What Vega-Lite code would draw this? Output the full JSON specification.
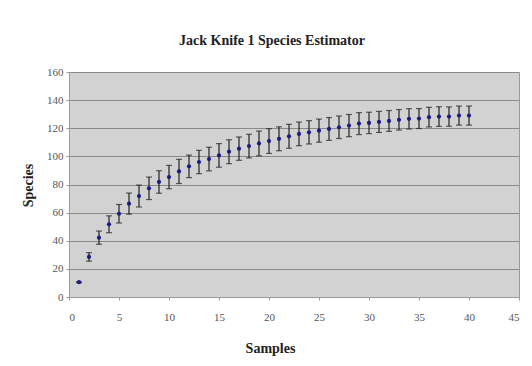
{
  "$schema": "https://vega.github.io/schema/vega-lite/v6.json",
  "width": 450,
  "height": 225,
  "autosize": {"type": "none"},
  "padding": {"left": 69, "top": 72, "right": 13, "bottom": 69},
  "background": "white",
  "title": {
    "text": "Jack Knife 1 Species Estimator",
    "font": "Liberation Serif",
    "fontSize": 14,
    "fontWeight": "bold",
    "color": "#222222",
    "anchor": "middle",
    "dx": -22,
    "offset": 18
  },
  "config": {
    "view": {"fill": "#d2d2d2", "stroke": "#9a9a9a", "strokeWidth": 1},
    "axis": {
      "labelFont": "Liberation Serif",
      "labelFontSize": 11,
      "labelColor": "#555555",
      "labelOverlap": false,
      "titleFont": "Liberation Serif",
      "titleFontSize": 14,
      "titleFontWeight": "bold",
      "titleColor": "#222222",
      "domainColor": "#9a9a9a",
      "tickColor": "#9a9a9a",
      "tickSize": 3
    },
    "axisX": {
      "values": [0, 5, 10, 15, 20, 25, 30, 35, 40, 45],
      "grid": false,
      "labelPadding": 11,
      "titleX": 201,
      "titleY": 51,
      "titleBaseline": "middle"
    },
    "axisY": {
      "values": [0, 20, 40, 60, 80, 100, 120, 140, 160],
      "grid": true,
      "gridColor": "#8a8a8a",
      "gridWidth": 1,
      "labelPadding": 3,
      "titleX": -41,
      "titleY": 113,
      "titleAngle": -90,
      "titleAlign": "center",
      "titleBaseline": "middle"
    }
  },
  "data": {
    "values": [
      {"x": 1, "y": 10.5, "lo": 10.2, "hi": 10.8},
      {"x": 2, "y": 28.5, "lo": 25.5, "hi": 31.5},
      {"x": 3, "y": 42.2, "lo": 37.5, "hi": 46.9},
      {"x": 4, "y": 51.7, "lo": 45.7, "hi": 57.7},
      {"x": 5, "y": 59.2, "lo": 52.6, "hi": 65.8},
      {"x": 6, "y": 66.4, "lo": 58.9, "hi": 73.9},
      {"x": 7, "y": 71.8, "lo": 64.0, "hi": 79.6},
      {"x": 8, "y": 77.3, "lo": 69.3, "hi": 85.3},
      {"x": 9, "y": 81.8, "lo": 73.8, "hi": 89.8},
      {"x": 10, "y": 85.3, "lo": 77.0, "hi": 93.6},
      {"x": 11, "y": 89.3, "lo": 80.7, "hi": 97.9},
      {"x": 12, "y": 92.9, "lo": 84.9, "hi": 100.9},
      {"x": 13, "y": 96.0, "lo": 87.7, "hi": 104.3},
      {"x": 14, "y": 98.1, "lo": 89.7, "hi": 106.5},
      {"x": 15, "y": 100.7, "lo": 92.3, "hi": 109.1},
      {"x": 16, "y": 103.3, "lo": 94.8, "hi": 111.8},
      {"x": 17, "y": 105.5, "lo": 97.2, "hi": 113.8},
      {"x": 18, "y": 107.3, "lo": 98.9, "hi": 115.7},
      {"x": 19, "y": 109.2, "lo": 100.4, "hi": 118.0},
      {"x": 20, "y": 110.9, "lo": 102.1, "hi": 119.7},
      {"x": 21, "y": 112.5, "lo": 104.0, "hi": 121.0},
      {"x": 22, "y": 114.3, "lo": 105.8, "hi": 122.8},
      {"x": 23, "y": 116.0, "lo": 107.6, "hi": 124.4},
      {"x": 24, "y": 117.1, "lo": 108.8, "hi": 125.4},
      {"x": 25, "y": 118.3, "lo": 110.1, "hi": 126.5},
      {"x": 26, "y": 119.5, "lo": 111.4, "hi": 127.6},
      {"x": 27, "y": 120.7, "lo": 112.7, "hi": 128.7},
      {"x": 28, "y": 121.9, "lo": 114.0, "hi": 129.8},
      {"x": 29, "y": 123.3, "lo": 115.5, "hi": 131.1},
      {"x": 30, "y": 123.8, "lo": 116.2, "hi": 131.4},
      {"x": 31, "y": 124.5, "lo": 117.0, "hi": 132.0},
      {"x": 32, "y": 125.2, "lo": 117.8, "hi": 132.6},
      {"x": 33, "y": 126.0, "lo": 118.7, "hi": 133.3},
      {"x": 34, "y": 126.7, "lo": 119.5, "hi": 133.9},
      {"x": 35, "y": 126.9, "lo": 119.8, "hi": 134.0},
      {"x": 36, "y": 127.9, "lo": 120.9, "hi": 134.9},
      {"x": 37, "y": 128.3, "lo": 121.3, "hi": 135.3},
      {"x": 38, "y": 128.3, "lo": 121.4, "hi": 135.2},
      {"x": 39, "y": 129.0, "lo": 122.2, "hi": 135.8},
      {"x": 40, "y": 129.0, "lo": 122.2, "hi": 135.8}
    ]
  },
  "layer": [
    {
      "mark": {"type": "rule", "color": "#222222", "strokeWidth": 1.2},
      "encoding": {
        "x": {
          "field": "x",
          "type": "quantitative",
          "scale": {"domain": [0, 45], "nice": false},
          "axis": {"title": "Samples"}
        },
        "y": {
          "field": "lo",
          "type": "quantitative",
          "scale": {"domain": [0, 160], "nice": false},
          "axis": {"title": "Species"}
        },
        "y2": {"field": "hi"}
      }
    },
    {
      "mark": {"type": "tick", "orient": "horizontal", "color": "#222222", "size": 6, "thickness": 1.2},
      "encoding": {
        "x": {"field": "x", "type": "quantitative", "axis": {"title": "Samples"}},
        "y": {"field": "lo", "type": "quantitative", "axis": {"title": "Species"}}
      }
    },
    {
      "mark": {"type": "tick", "orient": "horizontal", "color": "#222222", "size": 6, "thickness": 1.2},
      "encoding": {
        "x": {"field": "x", "type": "quantitative", "axis": {"title": "Samples"}},
        "y": {"field": "hi", "type": "quantitative", "axis": {"title": "Species"}}
      }
    },
    {
      "mark": {"type": "point", "filled": true, "shape": "circle", "size": 18, "color": "#1c1c86", "opacity": 1},
      "encoding": {
        "x": {"field": "x", "type": "quantitative", "axis": {"title": "Samples"}},
        "y": {"field": "y", "type": "quantitative", "axis": {"title": "Species"}}
      }
    }
  ]
}
